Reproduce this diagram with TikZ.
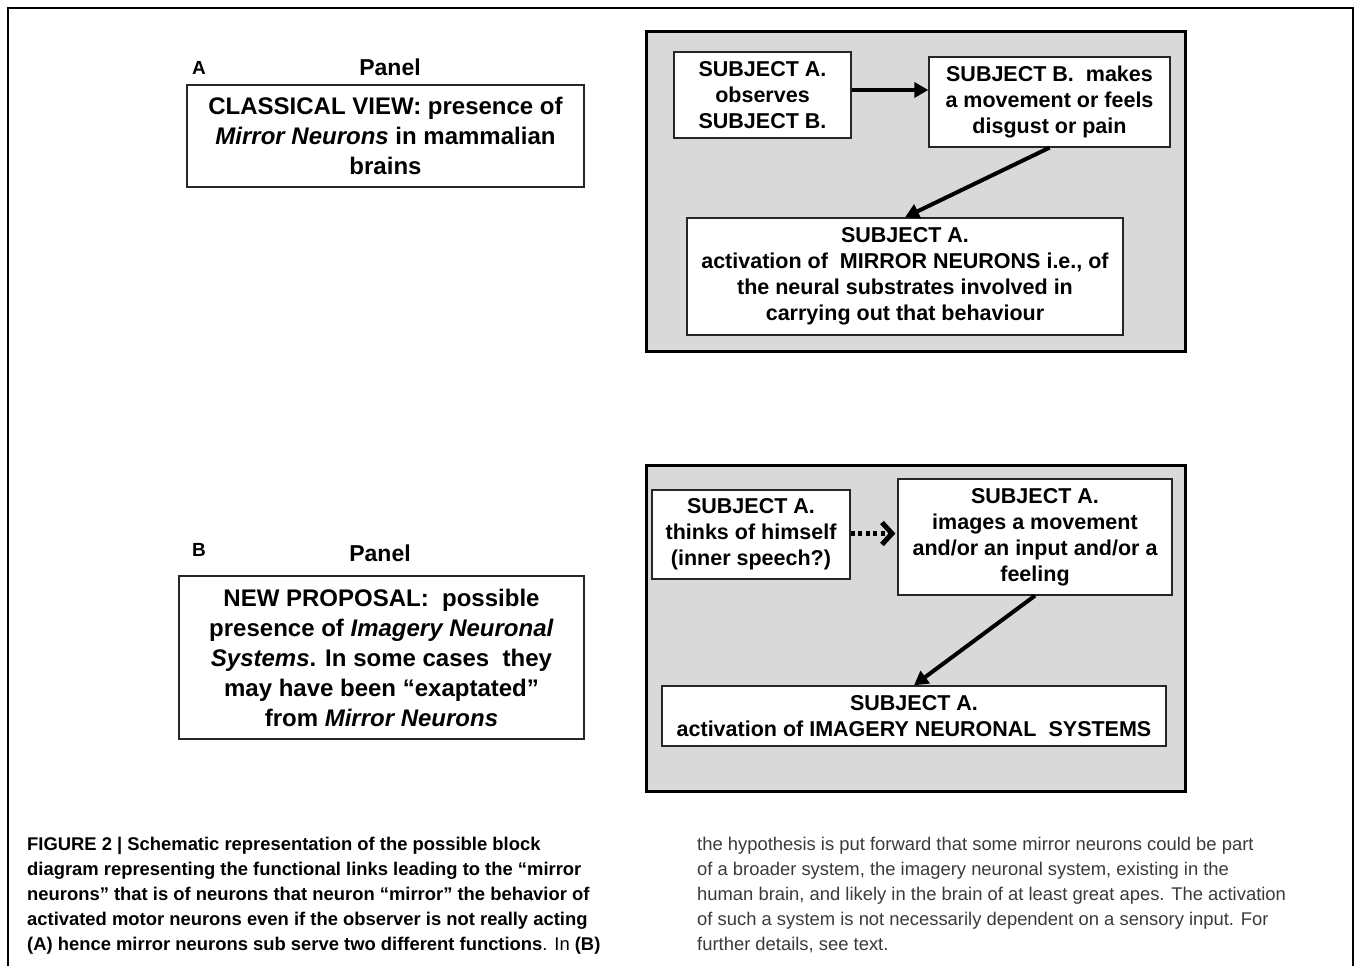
\documentclass[tikz,border=0pt]{standalone}
\usepackage{fontspec}
\setmainfont{Liberation Sans}
\usetikzlibrary{arrows.meta}
\definecolor{panelgray}{HTML}{D9D9D9}
\definecolor{capgray}{HTML}{3A3A3A}
\begin{document}
\begin{tikzpicture}[x=1pt,y=-1pt,
  frameline/.style={line width=2pt, black},
  headtext/.style={font=\bfseries\fontsize{23}{28}\selectfont, inner sep=0},
  letter/.style={font=\bfseries\fontsize{19}{22}\selectfont, inner sep=0},
  leftbox/.style={draw=black!85, line width=1.5pt, fill=white, align=center, inner sep=0,
    font=\bfseries\fontsize{24}{30}\selectfont},
  graypanel/.style={draw=black, line width=3pt, fill=panelgray},
  stepbox/.style={draw=black!85, line width=1.3pt, fill=white, align=center, inner sep=0,
    font=\bfseries\fontsize{21.5}{26}\selectfont},
  flow/.style={line width=4pt, -{Triangle[length=14pt,width=15pt]}},
  hint/.style={line width=5pt, dash pattern=on 4pt off 3.5pt,
    -{Straight Barb[length=10pt,width=22pt,line width=5pt]}},
  captext/.style={anchor=north west, align=left, inner sep=0, font=\fontsize{18.4}{25}\selectfont}
]
\useasboundingbox (0,0) rectangle (1355,966);
\fill[white] (0,0) rectangle (1355,966);

% outer frame (open at the bottom)
\draw[frameline] (8,966) -- (8,8) -- (1353,8) -- (1353,966);

% ---------- Panel A ----------
\node[letter, anchor=west] (labA) at (192,68) {A};
\node[headtext] (headA) at (390,67) {Panel};
\node[leftbox, minimum width=397, minimum height=102] (viewA) at (385.5,136)
  {CLASSICAL VIEW: presence of\\\textit{Mirror Neurons} in mammalian\\brains};

\draw[graypanel] (646,32) rectangle (1185,351);
\node[stepbox, minimum width=177, minimum height=86] (a1) at (762.5,95)
  {SUBJECT A.\\observes\\SUBJECT B.};
\node[stepbox, minimum width=241, minimum height=90] (a2) at (1049.5,102)
  {SUBJECT B.\ \ makes\\a movement or feels\\disgust or pain};
\node[stepbox, minimum width=436, minimum height=117] (a3) at (905,276.5)
  {SUBJECT A.\\activation of\ \ MIRROR NEURONS i.e., of\\the neural substrates involved in\\carrying out that behaviour};

\draw[flow] ([yshift=5pt]a1.east) -- ([yshift=5pt]a1.east -| a2.west);
\draw[flow] (a2.south) -- (a3.north);

% ---------- Panel B ----------
\node[letter, anchor=west] (labB) at (192,550) {B};
\node[headtext] (headB) at (380,553) {Panel};
\node[leftbox, minimum width=405, minimum height=163] (viewB) at (381.5,657.5)
  {NEW PROPOSAL:\ \ possible\\presence of \textit{Imagery Neuronal}\\\textit{Systems}. In some cases\ \ they\\may have been “exaptated”\\from \textit{Mirror Neurons}};

\draw[graypanel] (646,465) rectangle (1185,791);
\node[stepbox, minimum width=198, minimum height=89] (b1) at (751,534.5)
  {SUBJECT A.\\thinks of himself\\(inner speech?)};
\node[stepbox, minimum width=274, minimum height=116] (b2) at (1035,537)
  {SUBJECT A.\\images a movement\\and/or an input and/or a\\feeling};
\node[stepbox, minimum width=504, minimum height=60] (b3) at (914,716)
  {SUBJECT A.\\activation of IMAGERY NEURONAL\ \ SYSTEMS};

\draw[hint] ([yshift=1pt]b1.east) -- ([xshift=-2pt,yshift=1pt]b1.east -| b2.west);
\draw[flow] (b2.south) -- (b3.north);

% ---------- caption ----------
\node[captext] (capL) at (27,837)
  {\bfseries FIGURE 2 | Schematic representation of the possible block\\
   \bfseries diagram representing the functional links leading to the “mirror\\
   \bfseries neurons” that is of neurons that neuron “mirror” the behavior of\\
   \bfseries activated motor neurons even if the observer is not really acting\\
   \bfseries (A) hence mirror neurons sub serve two different functions\mdseries. In \bfseries(B)};
\node[captext, text=capgray] (capR) at (697,837)
  {the hypothesis is put forward that some mirror neurons could be part\\
   of a broader system, the imagery neuronal system, existing in the\\
   human brain, and likely in the brain of at least great apes. The activation\\
   of such a system is not necessarily dependent on a sensory input. For\\
   further details, see text.};
\end{tikzpicture}
\end{document}
